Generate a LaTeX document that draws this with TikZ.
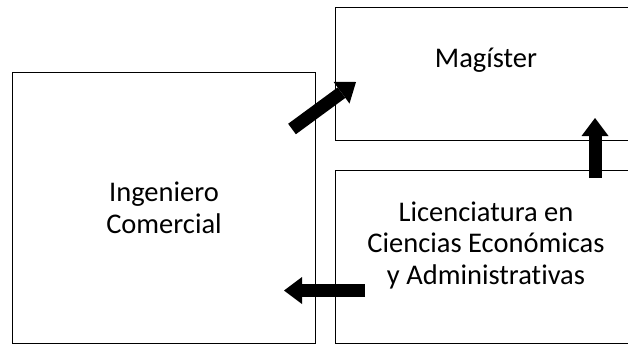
\documentclass[tikz,border=0pt]{standalone}
\usepackage{fontspec}
\setmainfont[Ligatures=NoCommon]{Carlito}
\usetikzlibrary{arrows.meta}

\tikzset{
  caja/.style={draw, line width=1bp, inner sep=0pt},
  texto/.style={align=center, inner sep=0pt,
    font=\fontsize{28.5bp}{31.5bp}\selectfont},
  flecha/.style={line width=13bp,
    -{Triangle[width=27bp, length=18bp, line width=0pt]}}
}

\begin{document}
\begin{tikzpicture}[x=1bp, y=-1bp]
  \useasboundingbox (0,0) rectangle (628,345);
  \clip (0,0) rectangle (628,345);
  % Boxes
  \node[caja, minimum width=302bp, minimum height=271bp] (ing) at (164,207.5) {};
  \node[caja, minimum width=302bp, minimum height=133bp] (mag) at (486,73.5) {};
  \node[caja, minimum width=302bp, minimum height=173bp] (lic) at (486,256.5) {};
  % Texts
  \node[texto] (ingtxt) at (164,208) {Ingeniero\\Comercial};
  \node[texto] (magtxt) at (486,60) {Magíster};
  \node[texto] (lictxt) at (486,245) {Licenciatura en\\Ciencias Económicas\\y Administrativas};
  % Arrow ends
  \coordinate (a1) at (292,129);
  \coordinate (b1) at (356,82);
  \coordinate (a2) at (595,178);
  \coordinate (b2) at (595,118);
  \coordinate (a3) at (365,290.5);
  \coordinate (b3) at (284,290.5);
  % Arrows
  \draw[flecha] (a1) -- (b1);
  \draw[flecha] (a2) -- (b2);
  \draw[flecha] (a3) -- (b3);
\end{tikzpicture}
\end{document}
